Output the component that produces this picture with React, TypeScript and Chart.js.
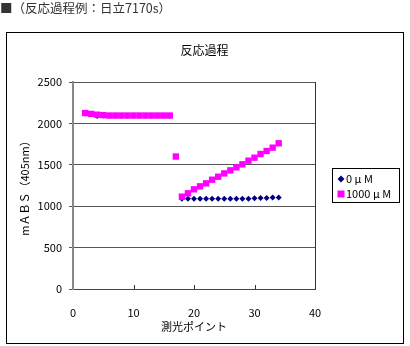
import React, { useEffect, useRef } from "react";
import { Chart, registerables } from "chart.js";

Chart.register(...registerables);

// ---- data ----
const headerText = "■（反応過程例：日立7170s）";
const chartTitle = "反応過程";
const xAxisTitle = "測光ポイント";
const yAxisTitle = "mＡＢＳ（405nm）";
const seriesLabels = ["0 μ M", "1000 μ M"];
const seriesColors = ["#000080", "#FF00FF"];

const points0 = [2, 3, 4, 5, 6, 7, 8, 9, 10, 11, 12, 13, 14, 15, 16, 18, 19, 20, 21, 22, 23, 24, 25, 26, 27, 28, 29, 30, 31, 32, 33, 34];
const values0 = [2120, 2110, 2090, 2095, 2092, 2092, 2092, 2092, 2092, 2092, 2092, 2092, 2092, 2092, 2092,
  1090, 1090, 1090, 1090, 1090, 1090, 1090, 1090, 1090, 1090, 1090, 1090, 1095, 1100, 1100, 1105, 1105];

const points1000 = [2, 3, 4, 5, 6, 7, 8, 9, 10, 11, 12, 13, 14, 15, 16, 17, 18, 19, 20, 21, 22, 23, 24, 25, 26, 27, 28, 29, 30, 31, 32, 33, 34];
const values1000 = [2125, 2115, 2105, 2100, 2095, 2095, 2095, 2095, 2095, 2095, 2095, 2095, 2095, 2095, 2095,
  1600,
  1115, 1156, 1204, 1240, 1276, 1320, 1356, 1396, 1433, 1469, 1506, 1550, 1586, 1630, 1667, 1707, 1760];

const xMin = 0, xMax = 40, xStep = 10;
const yMin = 0, yMax = 2500, yStep = 500;

const FONT = "'Noto Sans CJK JP', 'Noto Sans', sans-serif";

const decorPlugin = {
  id: "decor",
  beforeDraw(chart: any) {
    const ctx = chart.ctx;
    ctx.save();
    ctx.fillStyle = "#fff";
    ctx.fillRect(0, 0, chart.width, chart.height);
    // outer box
    ctx.strokeStyle = "#000";
    ctx.lineWidth = 1;
    ctx.strokeRect(6.5, 32.5, 397, 311);
    // header
    ctx.fillStyle = "#333";
    ctx.font = `12.5px ${FONT}`;
    ctx.textBaseline = "middle";
    ctx.textAlign = "left";
    ctx.fillText(headerText, 0, 8);
    // chart title
    ctx.fillStyle = "#000";
    ctx.font = `12px ${FONT}`;
    ctx.textAlign = "center";
    ctx.fillText(chartTitle, 204.5, 50);
    ctx.restore();
  },
  afterDraw(chart: any) {
    const ctx = chart.ctx;
    const { top, bottom, right } = chart.chartArea;
    const xs = chart.scales.x;
    ctx.save();
    // right border
    ctx.strokeStyle = "#333";
    ctx.lineWidth = 1;
    ctx.beginPath();
    ctx.moveTo(Math.round(right) + 0.5, top);
    ctx.lineTo(Math.round(right) + 0.5, bottom);
    ctx.stroke();
    // inside x tick marks
    ctx.strokeStyle = "#333";
    for (let v = xMin + xStep; v < xMax; v += xStep) {
      const px = Math.round(xs.getPixelForValue(v)) + 0.5;
      ctx.beginPath();
      ctx.moveTo(px, bottom);
      ctx.lineTo(px, bottom - 4);
      ctx.stroke();
    }
    // legend
    const lx = 332.5, ly = 168.5, lw = 67, lh = 34;
    ctx.fillStyle = "#fff";
    ctx.fillRect(lx, ly, lw, lh);
    ctx.strokeStyle = "#000";
    ctx.strokeRect(lx, ly, lw, lh);
    ctx.font = `11px ${FONT}`;
    ctx.textBaseline = "middle";
    ctx.textAlign = "left";
    chart.data.datasets.forEach((ds: any, i: number) => {
      const cy = 179 + i * 15;
      const cx = 341;
      ctx.fillStyle = ds.backgroundColor;
      if (ds.pointStyle === "rectRot") {
        ctx.beginPath();
        ctx.moveTo(cx, cy - 3.5);
        ctx.lineTo(cx + 3.5, cy);
        ctx.lineTo(cx, cy + 3.5);
        ctx.lineTo(cx - 3.5, cy);
        ctx.closePath();
        ctx.fill();
      } else {
        ctx.fillRect(cx - 3.5, cy - 3.5, 7, 7);
      }
      ctx.fillStyle = "#000";
      ctx.fillText(ds.label, 346, cy);
    });
    ctx.restore();
  },
};

export default function App() {
  const ref = useRef<HTMLCanvasElement | null>(null);
  useEffect(() => {
    if (!ref.current) return;
    const chart = new Chart(ref.current, {
      type: "scatter",
      data: {
        datasets: [
          {
            label: seriesLabels[0],
            data: points0.map((x, i) => ({ x, y: values0[i] })),
            backgroundColor: seriesColors[0],
            borderColor: seriesColors[0],
            borderWidth: 0,
            pointStyle: "rectRot",
            pointRadius: 3,
            order: 2,
          },
          {
            label: seriesLabels[1],
            data: points1000.map((x, i) => ({ x, y: values1000[i] })),
            backgroundColor: seriesColors[1],
            borderColor: seriesColors[1],
            borderWidth: 0,
            pointStyle: "rect",
            pointRadius: 4.5,
            order: 1,
          },
        ],
      },
      options: {
        animation: false,
        responsive: false,
        devicePixelRatio: 1,
        layout: { padding: { left: 6, right: 95, top: 82, bottom: 2 } },
        plugins: {
          legend: { display: false },
          tooltip: { enabled: false },
          title: { display: false },
        },
        scales: {
          x: {
            type: "linear",
            min: xMin,
            max: xMax,
            ticks: {
              stepSize: xStep,
              color: "#000",
              font: { family: FONT, size: 11 },
              padding: 9,
              callback: (v: any) => String(v),
            },
            grid: { display: false },
            border: { display: true, color: "#444", width: 1 },
            title: {
              display: true,
              text: xAxisTitle,
              color: "#000",
              font: { family: FONT, size: 11 },
              padding: { top: 0, bottom: 10.5 },
            },
            afterFit(scale: any) {
              scale.height = 55;
            },
          },
          y: {
            type: "linear",
            min: yMin,
            max: yMax,
            ticks: {
              stepSize: yStep,
              color: "#000",
              font: { family: FONT, size: 11 },
              padding: 7,
              callback: (v: any) => String(v),
            },
            grid: { color: "#555", lineWidth: 1, tickLength: 4, drawTicks: true },
            border: { display: true, color: "#888", width: 2 },
            title: {
              display: true,
              text: yAxisTitle,
              color: "#000",
              font: { family: FONT, size: 11 },
              padding: { top: 12.4, bottom: 0 },
            },
            afterFit(scale: any) {
              scale.width = 67;
            },
          },
        },
      },
      plugins: [decorPlugin],
    } as any);
    return () => chart.destroy();
  }, []);
  return (
    <div style={{ position: "absolute", left: 0, top: 0, width: 410, height: 346 }}>
      <canvas ref={ref} width={410} height={346} style={{ width: 410, height: 346, display: "block" }} />
    </div>
  );
}
